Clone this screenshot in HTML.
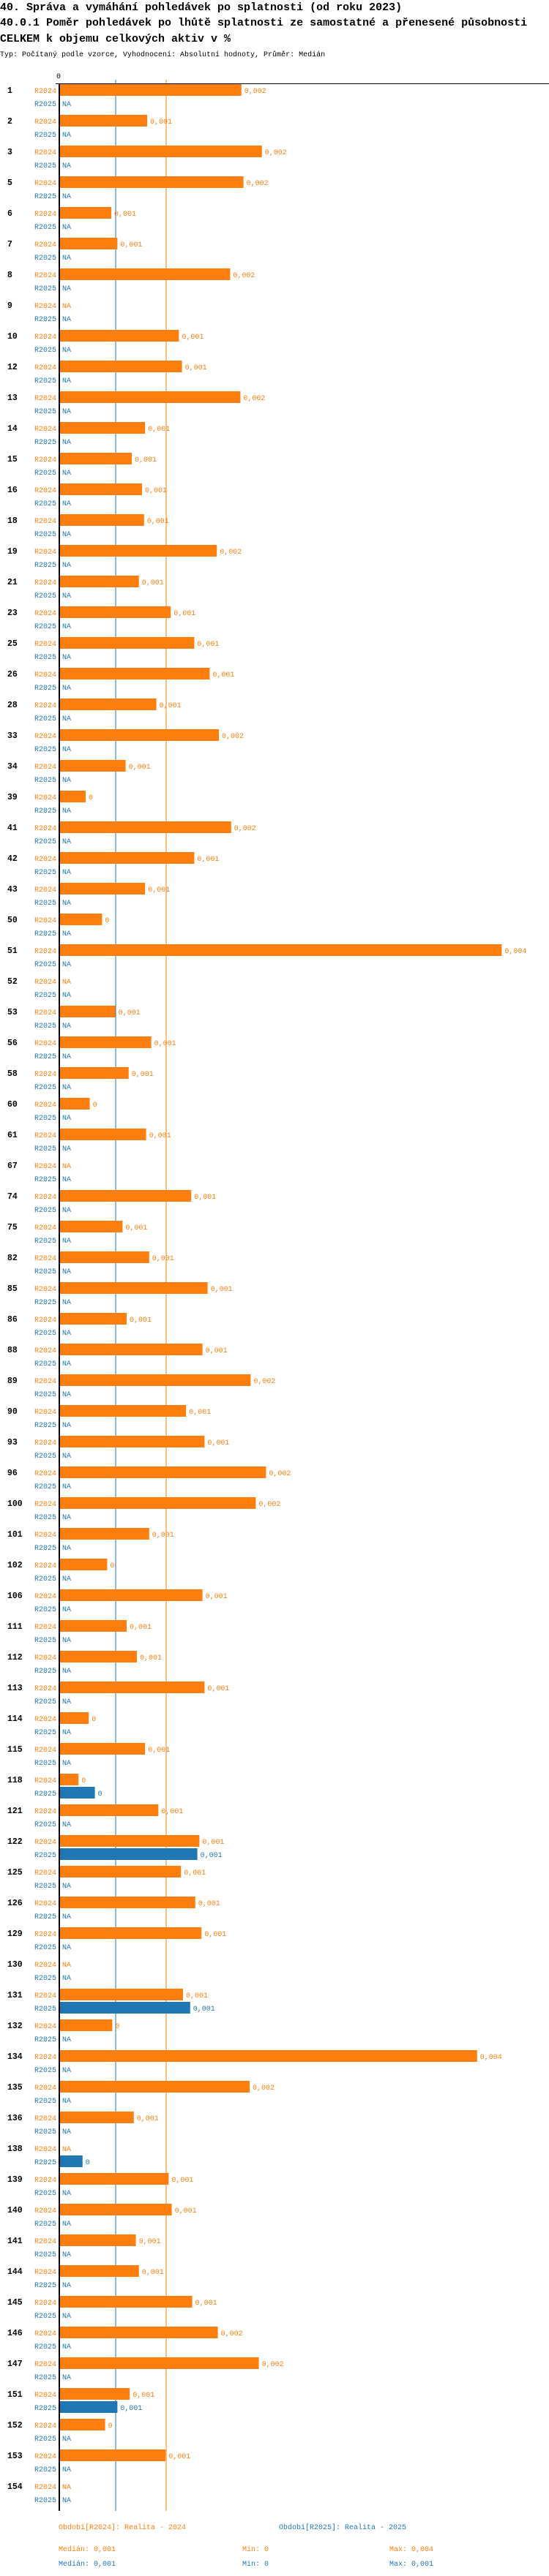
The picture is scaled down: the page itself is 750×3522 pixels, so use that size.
<!DOCTYPE html>
<html><head><meta charset="utf-8">
<style>
html,body{margin:0;padding:0;background:#fff;}
svg{display:block;}
text{font-family:"Liberation Mono","DejaVu Sans Mono",monospace;}
</style></head>
<body>
<svg id="chart" width="750" height="3522" xmlns="http://www.w3.org/2000/svg">
<text x="0" y="14" font-size="15" font-weight="bold" fill="#000">40. Správa a vymáhání pohledávek po splatnosti (od roku 2023)</text>
<text x="0" y="35" font-size="15" font-weight="bold" fill="#000">40.0.1 Poměr pohledávek po lhůtě splatnosti ze samostatné a přenesené působnosti</text>
<text x="0" y="57" font-size="15" font-weight="bold" fill="#000">CELKEM k objemu celkových aktiv v %</text>
<text x="0" y="77" font-size="10" fill="#000">Typ: Počítaný podle vzorce, Vyhodnocení: Absolutní hodnoty, Průměr: Medián</text>
<g id="marks"></g>
<text x="80" y="3458" font-size="10" fill="#ff7f0e">Období[R2024]: Realita - 2024</text>
<text x="381" y="3458" font-size="10" fill="#1f77b4">Období[R2025]: Realita - 2025</text>
<text x="80" y="3488" font-size="10" fill="#ff7f0e">Medián: 0,001</text>
<text x="331" y="3488" font-size="10" fill="#ff7f0e">Min: 0</text>
<text x="532" y="3488" font-size="10" fill="#ff7f0e">Max: 0,004</text>
<text x="80" y="3508" font-size="10" fill="#1f77b4">Medián: 0,001</text>
<text x="331" y="3508" font-size="10" fill="#1f77b4">Min: 0</text>
<text x="532" y="3508" font-size="10" fill="#1f77b4">Max: 0,001</text>
</svg>
<script>
// values in thousandths (x 0.001)
const categories = ["1","2","3","5","6","7","8","9","10","12","13","14","15","16","18","19","21","23","25","26","28","33","34","39","41","42","43","50","51","52","53","56","58","60","61","67","74","75","82","85","86","88","89","90","93","96","100","101","102","106","111","112","113","114","115","118","121","122","125","126","129","130","131","132","134","135","136","138","139","140","141","144","145","146","147","151","152","153","154"];
const values2024 = [1.77,0.85,1.97,1.79,0.50,0.56,1.66,null,1.16,1.19,1.76,0.83,0.70,0.80,0.82,1.53,0.77,1.08,1.31,1.46,0.94,1.55,0.64,0.25,1.67,1.31,0.83,0.41,4.31,null,0.54,0.89,0.67,0.29,0.84,null,1.28,0.61,0.87,1.44,0.65,1.39,1.86,1.23,1.41,2.01,1.91,0.87,0.46,1.39,0.65,0.75,1.41,0.28,0.83,0.18,0.96,1.36,1.18,1.32,1.38,null,1.20,0.51,4.07,1.85,0.72,null,1.06,1.09,0.74,0.77,1.29,1.54,1.94,0.68,0.44,1.03,null];
const labels2024 = ["0,002","0,001","0,002","0,002","0,001","0,001","0,002","NA","0,001","0,001","0,002","0,001","0,001","0,001","0,001","0,002","0,001","0,001","0,001","0,001","0,001","0,002","0,001","0","0,002","0,001","0,001","0","0,004","NA","0,001","0,001","0,001","0","0,001","NA","0,001","0,001","0,001","0,001","0,001","0,001","0,002","0,001","0,001","0,002","0,002","0,001","0","0,001","0,001","0,001","0,001","0","0,001","0","0,001","0,001","0,001","0,001","0,001","NA","0,001","0","0,004","0,002","0,001","NA","0,001","0,001","0,001","0,001","0,001","0,002","0,002","0,001","0","0,001","NA"];
const values2025 = {"118":0.34,"122":1.34,"131":1.27,"138":0.22,"151":0.56};
const labels2025 = {"118":"0","122":"0,001","131":"0,001","138":"0","151":"0,001"};
const medians = [1.036, 0.543]; // R2024, R2025

const X0 = 82, PX = 140, TOP = 123, STEP = 42;
const xs = v => X0 + v * PX;
const ys = i => TOP + i * STEP;
const NS = "http://www.w3.org/2000/svg";
const g = document.getElementById("marks");
function mk(tag, attrs){const e=document.createElementNS(NS,tag);for(const k in attrs)e.setAttribute(k,attrs[k]);g.appendChild(e);return e;}
const bottom = ys(categories.length-1) + 34;
const OR="#ff7f0e", BL="#1f77b4";

let l = mk("line",{x1:xs(medians[1]),x2:xs(medians[1]),y1:109,y2:bottom,stroke:BL,"stroke-width":1});


l = mk("line",{x1:xs(medians[0]),x2:xs(medians[0]),y1:109,y2:bottom,stroke:OR,"stroke-width":1});


l = mk("line",{x1:76,x2:750,y1:114.5,y2:114.5,stroke:"#000","stroke-width":1});


l = mk("line",{x1:81,x2:81,y1:114,y2:bottom,stroke:"#000","stroke-width":2});


let t = mk("text",{x:80,y:107,"font-size":10,"text-anchor":"middle",fill:"#000"});
t.textContent="0";



categories.forEach((c,i)=>{
  const y = ys(i), y2 = y + 18;
  let e = mk("text",{x:10,y:y+4,"font-size":11.5,"font-weight":"bold",fill:"#000"});
  e.textContent=c;
  
  
  e = mk("text",{x:77,y:y+4,"font-size":10,"text-anchor":"end",fill:OR});
  e.textContent="R2024";
  
  
  e = mk("text",{x:77,y:y2+4,"font-size":10,"text-anchor":"end",fill:BL});
  e.textContent="R2025";
  
  
  const v = values2024[i];
  if(v===null){
    e = mk("text",{x:85,y:y+4,"font-size":10,fill:OR});
    e.textContent="NA";
    
    
  } else {
    e = mk("rect",{x:X0,y:y-8,width:xs(v)-X0,height:16,fill:OR});
    
    
    e = mk("text",{x:xs(v)+4,y:y+4,"font-size":10,fill:OR});
    e.textContent=labels2024[i];
    
    
  }
  const v2 = values2025[c];
  if(v2===undefined){
    e = mk("text",{x:85,y:y2+4,"font-size":10,fill:BL});
    e.textContent="NA";
    
    
  } else {
    e = mk("rect",{x:X0,y:y2-8,width:xs(v2)-X0,height:16,fill:BL});
    
    
    e = mk("text",{x:xs(v2)+4,y:y2+4,"font-size":10,fill:BL});
    e.textContent=labels2025[c];
    
    
  }
});
</script>
</body></html>
